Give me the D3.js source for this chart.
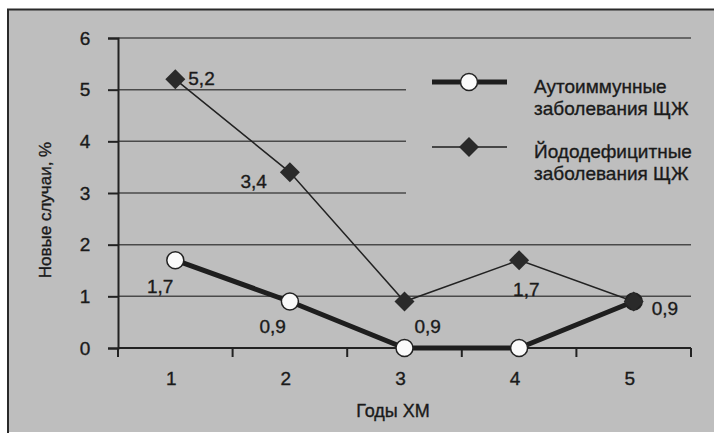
<!DOCTYPE html>
<html>
<head>
<meta charset="utf-8">
<script src="https://cdn.jsdelivr.net/npm/d3@7"></script>
<style>
  body { margin: 0; background: #fff; }
  text { font-family: "Liberation Sans Narrow", "Arial Narrow", "Liberation Sans", Arial, sans-serif; fill: #1a1a1a; stroke: #1a1a1a; stroke-width: 0.35px; }
</style>
</head>
<body>
<div class="plots"></div>
<script>
var years = [1, 2, 3, 4, 5];
var autoimmune = [1.7, 0.9, 0, 0, 0.9];
var iodine = [5.2, 3.4, 0.9, 1.7, 0.9];
var autoLabels = ["1,7", "0,9", "", "", ""];
var iodineLabels = ["5,2", "3,4", "0,9", "1,7", "0,9"];
var yTicks = [0, 1, 2, 3, 4, 5, 6];
var legendNames = [["Аутоиммунные", "заболевания ЩЖ"], ["Йододефицитные", "заболевания ЩЖ"]];

var width = 714, height = 435;
var margin = {top: 38, right: 23, bottom: 87, left: 118};

var svg = d3.select(".plots").append("svg")
    .attr("width", width)
    .attr("height", height);

// panel
svg.append("rect")
    .attr("x", 8).attr("y", 9)
    .attr("width", width - 8).attr("height", 423)
    .attr("fill", "#bebebe");
svg.append("path")
    .attr("d", "M8,433V9.5H714")
    .attr("fill", "none")
    .attr("stroke", "#2a2a2a")
    .attr("stroke-width", 2);

var x = d3.scaleBand()
    .domain(years)
    .range([margin.left, width - margin.right]);

var y = d3.scaleLinear()
    .domain([0, 6])
    .range([height - margin.bottom, margin.top]);

// gridlines
svg.append("g")
    .selectAll("line")
    .data(yTicks.slice(1))
    .join("line")
      .attr("x1", margin.left)
      .attr("x2", function(d) { return (d >= 3 && d <= 5) ? 406 : width - margin.right; })
      .attr("y1", function(d) { return y(d); })
      .attr("y2", function(d) { return y(d); })
      .attr("stroke", "#4a4a4a")
      .attr("stroke-width", 1.5);

// y axis
var yAxis = svg.append("g")
    .attr("transform", "translate(" + margin.left + ",0)")
    .call(d3.axisLeft(y).tickValues(yTicks).tickSize(10).tickPadding(14).tickFormat(d3.format("d")));
yAxis.select(".domain").attr("stroke", "#222").attr("stroke-width", 2);
yAxis.selectAll(".tick line").attr("stroke", "#222").attr("stroke-width", 2);
yAxis.selectAll(".tick text").style("font-size", "19px").attr("fill", "#1a1a1a").attr("text-anchor", "middle").attr("x", -33);

// x axis with ticks between categories
var xAxis = svg.append("g")
    .attr("transform", "translate(0," + y(0) + ")");
xAxis.append("line")
    .attr("x1", margin.left).attr("x2", width - margin.right)
    .attr("stroke", "#222").attr("stroke-width", 2);
var bounds = years.map(function(d) { return x(d); }).concat([x(years[years.length - 1]) + x.bandwidth()]);
xAxis.selectAll("line.tk")
    .data(bounds)
    .join("line")
      .attr("class", "tk")
      .attr("x1", function(d) { return d; })
      .attr("x2", function(d) { return d; })
      .attr("y1", 0).attr("y2", 9)
      .attr("stroke", "#222").attr("stroke-width", 2);
xAxis.selectAll("text")
    .data(years)
    .join("text")
      .attr("x", function(d) { return x(d) + x.bandwidth() / 2 - 4; })
      .attr("y", 37)
      .attr("text-anchor", "middle")
      .style("font-size", "19px")
      .text(function(d) { return d; });

svg.append("text")
    .attr("x", 393).attr("y", 417)
    .attr("text-anchor", "middle")
    .style("font-size", "18px")
    .text("Годы ХМ");

svg.append("text")
    .attr("transform", "translate(51,210) rotate(-90)")
    .attr("text-anchor", "middle")
    .style("font-size", "17px")
    .text("Новые случаи, %");

var cx = function(d, i) { return x(years[i]) + x.bandwidth() / 2; };
var line = d3.line()
    .x(function(d, i) { return cx(d, i); })
    .y(function(d) { return y(d); });

// autoimmune series
svg.append("path")
    .datum(autoimmune)
    .attr("fill", "none")
    .attr("stroke", "#1e1e1e")
    .attr("stroke-width", 5)
    .attr("d", line);
svg.append("g").selectAll("circle")
    .data(autoimmune)
    .join("circle")
      .attr("cx", cx)
      .attr("cy", function(d) { return y(d); })
      .attr("r", 8.5)
      .attr("fill", function(d, i) { return d === iodine[i] ? "#222" : "#fafafa"; })
      .attr("stroke", "#222")
      .attr("stroke-width", 1.5);

// iodine series
svg.append("path")
    .datum(iodine)
    .attr("fill", "none")
    .attr("stroke", "#222")
    .attr("stroke-width", 1.5)
    .attr("d", line);
var diamond = d3.symbol().type(d3.symbolSquare).size(200);
svg.append("g").selectAll("path")
    .data(iodine)
    .join("path")
      .attr("d", diamond)
      .attr("transform", function(d, i) { return "translate(" + cx(d, i) + "," + y(d) + ") rotate(45)"; })
      .attr("fill", "#2a2a2a");

// value labels
var iodOff = [[13, 6, "start"], [-23, 16, "end"], [10, 31, "start"], [-6, 36, "start"], [18, 13, "start"]];
svg.append("g").selectAll("text")
    .data(iodine)
    .join("text")
      .attr("x", function(d, i) { return cx(d, i) + iodOff[i][0]; })
      .attr("y", function(d) { return y(d); })
      .attr("dy", function(d, i) { return iodOff[i][1]; })
      .attr("text-anchor", function(d, i) { return iodOff[i][2]; })
      .style("font-size", "19px")
      .text(function(d, i) { return iodineLabels[i]; });
var autoOff = [[-2, 33], [-4, 31]];
svg.append("g").selectAll("text")
    .data(autoimmune.slice(0, 2))
    .join("text")
      .attr("x", function(d, i) { return cx(d, i) + autoOff[i][0]; })
      .attr("y", function(d) { return y(d); })
      .attr("dy", function(d, i) { return autoOff[i][1]; })
      .attr("text-anchor", "end")
      .style("font-size", "19px")
      .text(function(d, i) { return autoLabels[i]; });

// legend
var legend = svg.append("g");
legendNames.forEach(function(name, i) {
  var ly = 82 + i * 65;
  legend.append("line")
      .attr("x1", 432).attr("x2", 507)
      .attr("y1", ly).attr("y2", ly)
      .attr("stroke", "#1e1e1e")
      .attr("stroke-width", i === 0 ? 5 : 1.5);
  if (i === 0) {
    legend.append("circle")
        .attr("cx", 469).attr("cy", ly).attr("r", 8.5)
        .attr("fill", "#fafafa").attr("stroke", "#222").attr("stroke-width", 1.5);
  } else {
    legend.append("path")
        .attr("d", diamond)
        .attr("transform", "translate(469," + ly + ") rotate(45)")
        .attr("fill", "#2a2a2a");
  }
  name.forEach(function(t, j) {
    legend.append("text")
        .attr("x", 534)
        .attr("y", ly + 11 + j * 22)
        .style("font-size", "19px")
        .text(t);
  });
});
</script>
</body>
</html>
